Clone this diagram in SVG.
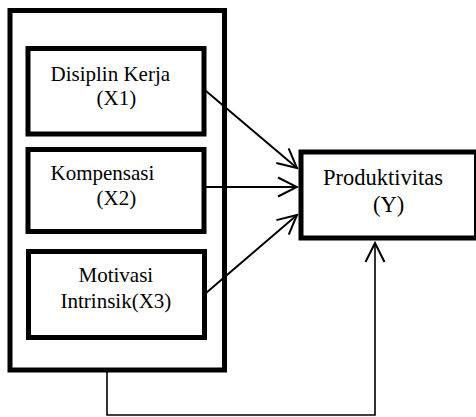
<svg xmlns="http://www.w3.org/2000/svg" width="476" height="417" viewBox="0 0 476 417">
<style>
.box{fill:#fff;stroke:#000;stroke-width:5}
.t{font-family:"Liberation Serif","Times New Roman",serif;font-size:21px;fill:#000}
.c{fill:none;stroke:#000;stroke-width:2}
</style>
<defs>
<marker id="arr" markerUnits="userSpaceOnUse" viewBox="-22 -12 24 24" markerWidth="24" markerHeight="24" refX="0" refY="0" orient="auto">
<path d="M-19,-9.5 L0,0 L-19,9.5" fill="none" stroke="#000" stroke-width="2"/>
</marker>
</defs>
<rect width="476" height="417" fill="#fff"/>
<g id="group">
<rect class="box" x="10" y="10.5" width="214.5" height="359.5"/>
</g>
<g id="x1">
<rect class="box" x="28" y="48.5" width="176" height="85.5"/>
<text class="t" x="50.5" y="80.5">Disiplin Kerja</text>
<text class="t" x="96.5" y="105">(X1)</text>
</g>
<g id="x2">
<rect class="box" x="28" y="149.5" width="176" height="82"/>
<text class="t" x="50.5" y="180">Kompensasi</text>
<text class="t" x="96.5" y="204.5">(X2)</text>
</g>
<g id="x3">
<rect class="box" x="28.5" y="251.5" width="176" height="86"/>
<text class="t" x="78.5" y="281.5">Motivasi</text>
<text class="t" x="60.5" y="307.5">Intrinsik(X3)</text>
</g>
<g id="y">
<rect class="box" x="301" y="152" width="175.5" height="86"/>
<text class="t" x="323" y="185" style="font-size:22.5px">Produktivitas</text>
<text class="t" x="373" y="212" style="font-size:22.5px">(Y)</text>
</g>
<g id="connectors">
<line class="c" x1="206" y1="91" x2="297" y2="168" marker-end="url(#arr)"/>
<line class="c" x1="206" y1="187" x2="297" y2="187" marker-end="url(#arr)"/>
<line class="c" x1="206" y1="293" x2="297" y2="215" marker-end="url(#arr)"/>
<polyline class="c" style="stroke-width:1.6" points="107,372 107,415 375,415 375,243" marker-end="url(#arr)"/>
</g>
</svg>
